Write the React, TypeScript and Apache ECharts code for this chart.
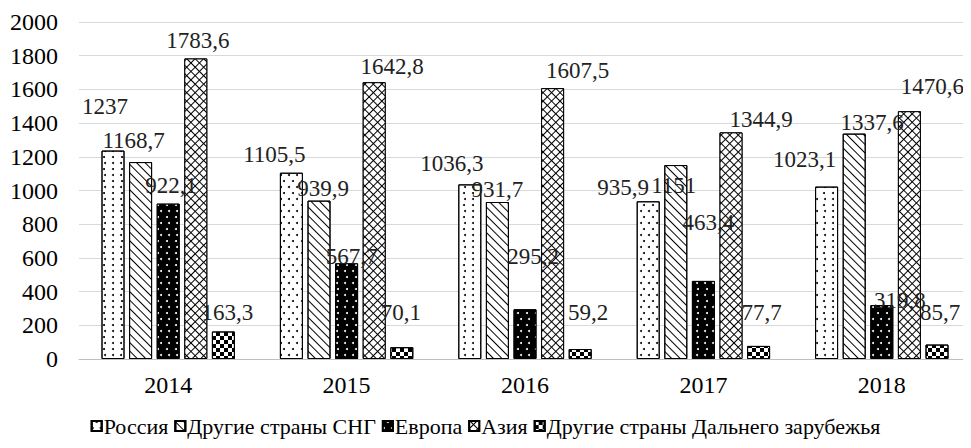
import React, { useEffect, useRef } from "react";
import * as echarts from "echarts";

const categories = ["2014", "2015", "2016", "2017", "2018"];
const seriesNames = [
  "Россия",
  "Другие страны СНГ",
  "Европа",
  "Азия",
  "Другие страны Дальнего зарубежья",
];
const russia = [1237, 1105.5, 1036.3, 935.9, 1023.1];
const cis = [1168.7, 939.9, 931.7, 1151, 1337.6];
const europe = [922.1, 567.7, 295.2, 463.4, 319.8];
const asia = [1783.6, 1642.8, 1607.5, 1344.9, 1470.6];
const farAbroad = [163.3, 70.1, 59.2, 77.7, 85.7];
const yTicks = { min: 0, max: 2000, interval: 200 };

// label nudges [dx, dy] (label placement only)
const labelNudges: number[][][] = [
  [[-8, -30], [-17, -4], [-18, -6], [-25, 1], [-22, -13]],
  [[-7, -7], [4, 2], [0, 2], [-2, 35], [18, 3]],
  [[3, -4], [5, 8], [8, -38], [5, -44], [18, 10]],
  [[2, -3], [18, -1], [25, -3], [30, 2], [23, -10]],
  [[4, -4], [-1, -20], [8, -22], [3, -19], [3, -18]],
];

const FONT = "Liberation Serif";

const decals: any[] = [
  {
    symbol: "circle",
    symbolSize: 1,
    color: "#000",
    dashArrayX: [[1.2, 5.8], [0, 3.5, 1.2, 2.3]],
    dashArrayY: [1.2, 3.8],
    rotation: 0,
  },
  {
    symbol: "rect",
    symbolSize: 1,
    color: "#000",
    dashArrayX: [1, 0],
    dashArrayY: [1, 5],
    rotation: Math.PI / 4,
  },
  {
    symbol: "circle",
    symbolSize: 1,
    color: "#fff",
    dashArrayX: [[1.2, 5.8], [0, 3.5, 1.2, 2.3]],
    dashArrayY: [1.2, 3.8],
    rotation: 0,
  },
  {
    symbol: "rect",
    symbolSize: 1,
    color: "#fff",
    dashArrayX: [5, 1],
    dashArrayY: [5, 1],
    rotation: Math.PI / 4,
  },
  {
    symbol: "rect",
    symbolSize: 1,
    color: "#000",
    dashArrayX: [[4, 4], [0, 4, 4, 0]],
    dashArrayY: [4, 0],
    rotation: 0,
  },
];

const fillColors = ["#fff", "#fff", "#000", "#000", "#fff"];
const seriesZ = [2, 2, 3, 2, 2];

export default function App() {
  const ref = useRef<HTMLDivElement>(null);
  useEffect(() => {
    if (!ref.current) return;
    const chart = echarts.init(ref.current, null, { renderer: "svg" });
    const allData = [russia, cis, europe, asia, farAbroad];
    const fmt = (v: number) => String(v).replace(".", ",");
    chart.setOption({
      animation: false,
      backgroundColor: "#fff",
      textStyle: { fontFamily: FONT },
      grid: { left: 79, top: 22, width: 896, height: 337, containLabel: false },
      legend: {
        top: 410,
        left: "center",
        icon: "rect",
        itemWidth: 10,
        itemHeight: 10,
        itemGap: 6,
        textStyle: { fontFamily: FONT, fontSize: 22, color: "#000", padding: [0, 0, 0, -3] },
        data: seriesNames,
      },
      xAxis: {
        type: "category",
        data: categories,
        axisTick: { show: false },
        axisLine: { lineStyle: { color: "#bfbfbf", width: 1 } },
        axisLabel: { fontFamily: FONT, fontSize: 24, color: "#000", margin: 14 },
      },
      yAxis: {
        type: "value",
        min: yTicks.min,
        max: yTicks.max,
        interval: yTicks.interval,
        axisLine: { show: false },
        axisTick: { show: false },
        splitLine: { lineStyle: { color: "#d9d9d9", width: 1 } },
        axisLabel: {
          fontFamily: FONT,
          fontSize: 24,
          color: "#000",
          margin: 21,
          formatter: (v: number) => String(v),
        },
      },
      series: allData.map((vals, si) => ({
        name: seriesNames[si],
        type: "bar",
        z: seriesZ[si],
        barWidth: 23,
        barGap: "20%",
        itemStyle: {
          color: fillColors[si],
          borderColor: "#000",
          borderWidth: 1,
          decal: decals[si],
        },
        label: {
          show: true,
          position: "top",
          distance: 3,
          fontFamily: FONT,
          fontSize: 23,
          color: "#222",
          formatter: (p: any) => fmt(p.value),
        },
        data: vals.map((v, i) => ({
          value: v,
          label: { offset: labelNudges[si][i] },
        })),
      })),
    });
    return () => chart.dispose();
  }, []);
  return <div ref={ref} style={{ width: 971, height: 448, margin: -8 }} />;
}
